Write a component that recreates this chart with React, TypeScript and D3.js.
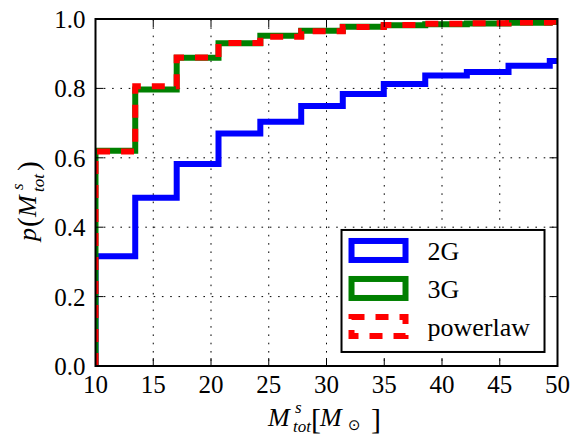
import React from "react";
import * as d3 from "d3";

// cumulative histograms
const binEdges = [10, 13.44, 17.03, 20.65, 24.27, 27.81, 31.41, 34.96, 38.55, 42.15, 45.76, 49.33, 52.9];
const values2G = [0.316, 0.485, 0.582, 0.670, 0.704, 0.749, 0.784, 0.813, 0.837, 0.847, 0.865, 0.879];
const values3G = [0.620, 0.797, 0.888, 0.930, 0.952, 0.966, 0.978, 0.982, 0.985, 0.987, 0.989, 0.991];
const valuesPowerlaw = [0.618, 0.806, 0.889, 0.931, 0.949, 0.965, 0.977, 0.983, 0.986, 0.988, 0.990, 0.992];

const xTicks = [10, 15, 20, 25, 30, 35, 40, 45, 50];
const yTicks = [0, 0.2, 0.4, 0.6, 0.8, 1.0];
const legendLabels = ["2G", "3G", "powerlaw"];

const W = 581;
const H = 436;
const margin = { top: 19, right: 23.5, bottom: 70, left: 95.5 };

const Txt = (props: any) => {
  const { family, italic, ...rest } = props;
  return (
    <text
      {...rest}
      fontFamily={family || "Liberation Serif"}
      fontStyle={italic ? "italic" : "normal"}
    />
  );
};

const App = () => {
  const width = W - margin.left - margin.right;
  const height = H - margin.top - margin.bottom;

  const xScale = d3.scaleLinear().domain([10, 50]).range([0, width]);
  const yScale = d3.scaleLinear().domain([0, 1]).range([height, 0]);

  // step outline like plt.hist(histtype='step', cumulative=True)
  const stepPath = (vals: number[]) => {
    const pts: [number, number][] = [[binEdges[0], 0]];
    vals.forEach((v, i) => pts.push([binEdges[i], v]));
    pts.push([binEdges[vals.length], vals[vals.length - 1]]);
    pts.push([binEdges[vals.length], 0]);
    const line = d3
      .line<[number, number]>()
      .x((d) => xScale(d[0]))
      .y((d) => yScale(d[1]))
      .curve(d3.curveStepAfter);
    return line(pts) || "";
  };

  const series = [
    { label: legendLabels[0], vals: values2G, color: "#0000ff", dash: undefined },
    { label: legendLabels[1], vals: values3G, color: "#008000", dash: undefined },
    { label: legendLabels[2], vals: valuesPowerlaw, color: "#ff0000", dash: "13,11" },
  ];

  const tickLen = 8;
  const gridDash = "1.6,6.7";

  return (
    <svg width={W} height={H} style={{ position: "absolute", left: 0, top: 0, background: "#fff" }}>
      <defs>
        <clipPath id="plot-clip">
          <rect x={0} y={0} width={width} height={height} />
        </clipPath>
      </defs>
      <g transform={`translate(${margin.left},${margin.top})`}>
        {/* grid */}
        {xTicks.map((t) => (
          <line key={`gx${t}`} x1={xScale(t)} x2={xScale(t)} y1={0} y2={height}
            stroke="#000" strokeWidth={1} strokeDasharray={gridDash} />
        ))}
        {yTicks.map((t) => (
          <line key={`gy${t}`} x1={0} x2={width} y1={yScale(t)} y2={yScale(t)}
            stroke="#000" strokeWidth={1} strokeDasharray={gridDash} />
        ))}

        {/* histograms */}
        <g clipPath="url(#plot-clip)">
          {series.map((s) => (
            <path key={s.label} d={stepPath(s.vals)} fill="none" stroke={s.color}
              strokeWidth={6} strokeDasharray={s.dash} strokeLinejoin="miter" />
          ))}
        </g>

        {/* ticks, inward on all sides */}
        {xTicks.map((t) => (
          <g key={`tx${t}`}>
            <line x1={xScale(t)} x2={xScale(t)} y1={height} y2={height - tickLen} stroke="#000" strokeWidth={1} />
            <line x1={xScale(t)} x2={xScale(t)} y1={0} y2={tickLen} stroke="#000" strokeWidth={1} />
            <Txt x={xScale(t)} y={height + 27} textAnchor="middle" fontSize={25}>{t}</Txt>
          </g>
        ))}
        {yTicks.map((t) => (
          <g key={`ty${t}`}>
            <line x1={0} x2={tickLen} y1={yScale(t)} y2={yScale(t)} stroke="#000" strokeWidth={1} />
            <line x1={width} x2={width - tickLen} y1={yScale(t)} y2={yScale(t)} stroke="#000" strokeWidth={1} />
            <Txt x={-10} y={yScale(t) + 9} textAnchor="end" fontSize={25}>{t.toFixed(1)}</Txt>
          </g>
        ))}

        {/* frame */}
        <rect x={0} y={0} width={width} height={height} fill="none" stroke="#000" strokeWidth={2} />

        {/* legend */}
        <g transform={`translate(${xScale(31.3)},${yScale(0.392)})`}>
          <rect x={0} y={0} width={203} height={122} fill="#fff" stroke="#000" strokeWidth={2} />
          {series.map((s, i) => (
            <g key={`lg${s.label}`} transform={`translate(0,${11 + i * 38})`}>
              <rect x={10} y={0} width={54} height={19} fill="none" stroke={s.color}
                strokeWidth={6} strokeDasharray={s.dash} />
              <Txt x={86} y={19} fontSize={26}>{s.label}</Txt>
            </g>
          ))}
        </g>
      </g>

      {/* x label: M^s_tot [M_sun] */}
      <g transform="translate(268,426)">
        <Txt x={0} y={0} italic fontSize={26}>M</Txt>
        <Txt x={27} y={-13} italic fontSize={17}>s</Txt>
        <Txt x={25} y={6} italic fontSize={17}>tot</Txt>
        <Txt x={43} y={3} fontSize={30}>[</Txt>
        <Txt x={52} y={0} italic fontSize={26}>M</Txt>
        <Txt x={80} y={4} fontSize={15} family="DejaVu Sans">⊙</Txt>
        <Txt x={103} y={3} fontSize={30}>]</Txt>
      </g>

      {/* y label: p(M^s_tot) */}
      <g transform="translate(36,241) rotate(-90)">
        <Txt x={0} y={0} italic fontSize={26}>p</Txt>
        <Txt x={14} y={2} fontSize={29}>(</Txt>
        <Txt x={24} y={0} italic fontSize={26}>M</Txt>
        <Txt x={51} y={-13} italic fontSize={17}>s</Txt>
        <Txt x={49} y={8} italic fontSize={17}>tot</Txt>
        <Txt x={70} y={2} fontSize={29}>)</Txt>
      </g>
    </svg>
  );
};

export default App;
